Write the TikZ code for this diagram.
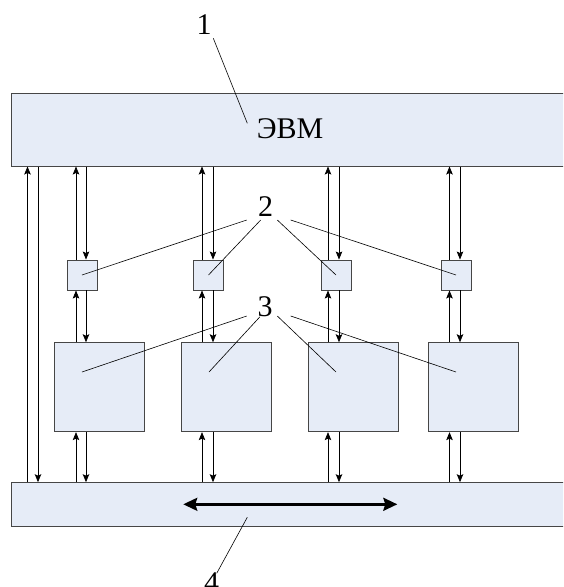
\documentclass[tikz,border=0pt]{standalone}
\usepackage{fontspec}
\setmainfont{Liberation Serif}
\usetikzlibrary{arrows.meta,calc}
\definecolor{boxfill}{RGB}{230,236,247}
\definecolor{boxline}{RGB}{70,70,70}
\begin{document}
\begin{tikzpicture}[x=1pt,y=-1pt,
  blk/.style={draw=boxline, fill=boxfill, line width=0.9pt, inner sep=0pt, rectangle},
  arr/.style={-{Stealth[length=8pt,width=6.5pt,inset=1.5pt]}, line width=0.7pt},
  lead/.style={line width=0.6pt},
  lab/.style={font=\fontsize{30}{30}\selectfont, inner sep=0pt},
  bigarr/.style={{Stealth[length=14pt,width=13pt,inset=2pt]}-{Stealth[length=14pt,width=13pt,inset=2pt]}, line width=2.5pt}]
\useasboundingbox (0,0) rectangle (563,587);
\clip (0,0) rectangle (563,587);

% main blocks
\node[blk, minimum width=556pt, minimum height=72.7pt] (evm) at (289,129.7) {};
\node[blk, minimum width=556pt, minimum height=43.3pt] (bus) at (289,504.3) {};

% small squares (2)
\node[blk, minimum size=30pt] (s1) at (82,275) {};
\node[blk, minimum size=30pt] (s2) at (208.5,275) {};
\node[blk, minimum size=30pt] (s3) at (336,275) {};
\node[blk, minimum size=30pt] (s4) at (456,275) {};

% big squares (3)
\node[blk, minimum width=90pt, minimum height=89pt] (b1) at (99.2,387.2) {};
\node[blk, minimum width=90pt, minimum height=89pt] (b2) at (226,387.2) {};
\node[blk, minimum width=90pt, minimum height=89pt] (b3) at (353,387.2) {};
\node[blk, minimum width=90pt, minimum height=89pt] (b4) at (473.7,387.2) {};

% column x positions
\coordinate (uL) at (27.5,0);
\coordinate (dL) at (38,0);
\coordinate (u1) at (76,0);    \coordinate (d1) at (86,0);
\coordinate (u2) at (202,0);   \coordinate (d2) at (213,0);
\coordinate (u3) at (328,0);   \coordinate (d3) at (339,0);
\coordinate (u4) at (449.5,0); \coordinate (d4) at (460,0);

% long left arrows
\draw[arr] (bus.north -| uL) -- (evm.south -| uL);
\draw[arr] (evm.south -| dL) -- (bus.north -| dL);

% column arrows
\foreach \i in {1,2,3,4}{
  \draw[arr] (s\i.north -| u\i) -- (evm.south -| u\i);
  \draw[arr] (evm.south -| d\i) -- (s\i.north -| d\i);
  \draw[arr] (b\i.north -| u\i) -- (s\i.south -| u\i);
  \draw[arr] (s\i.south -| d\i) -- (b\i.north -| d\i);
  \draw[arr] (bus.north -| u\i) -- (b\i.south -| u\i);
  \draw[arr] (b\i.south -| d\i) -- (bus.north -| d\i);
}

% bus double arrow
\coordinate (ba1) at (183.3,504.3);
\coordinate (ba2) at (397.3,504.3);
\draw[bigarr] (ba1) -- (ba2);

% texts
\node[lab] (tevm) at (290,129) {ЭВМ};
\node[lab] (l1) at (204,25) {1};
\node[lab] (l2) at (265.5,206.7) {2};
\node[lab] (l3) at (265,306.7) {3};
\node[lab] (l4) at (211.5,583) {4};

% leader lines
\draw[lead] (213.3,38.3) -- (247.3,123.3);
\draw[lead] (246.7,220) -- (s1.center);
\draw[lead] (260.7,220) -- (s2.center);
\draw[lead] (277.3,220) -- (s3.center);
\draw[lead] (290.7,220) -- (s4.center);
\coordinate (e1) at (82,372);
\coordinate (e2) at (209,372);
\coordinate (e3) at (336,372);
\coordinate (e4) at (456,372);
\draw[lead] (246.7,316) -- (e1);
\draw[lead] (260,316.7) -- (e2);
\draw[lead] (277.3,316) -- (e3);
\draw[lead] (290.7,316) -- (e4);
\draw[lead] (216.7,573.3) -- (247.3,517.3);
\end{tikzpicture}
\end{document}
